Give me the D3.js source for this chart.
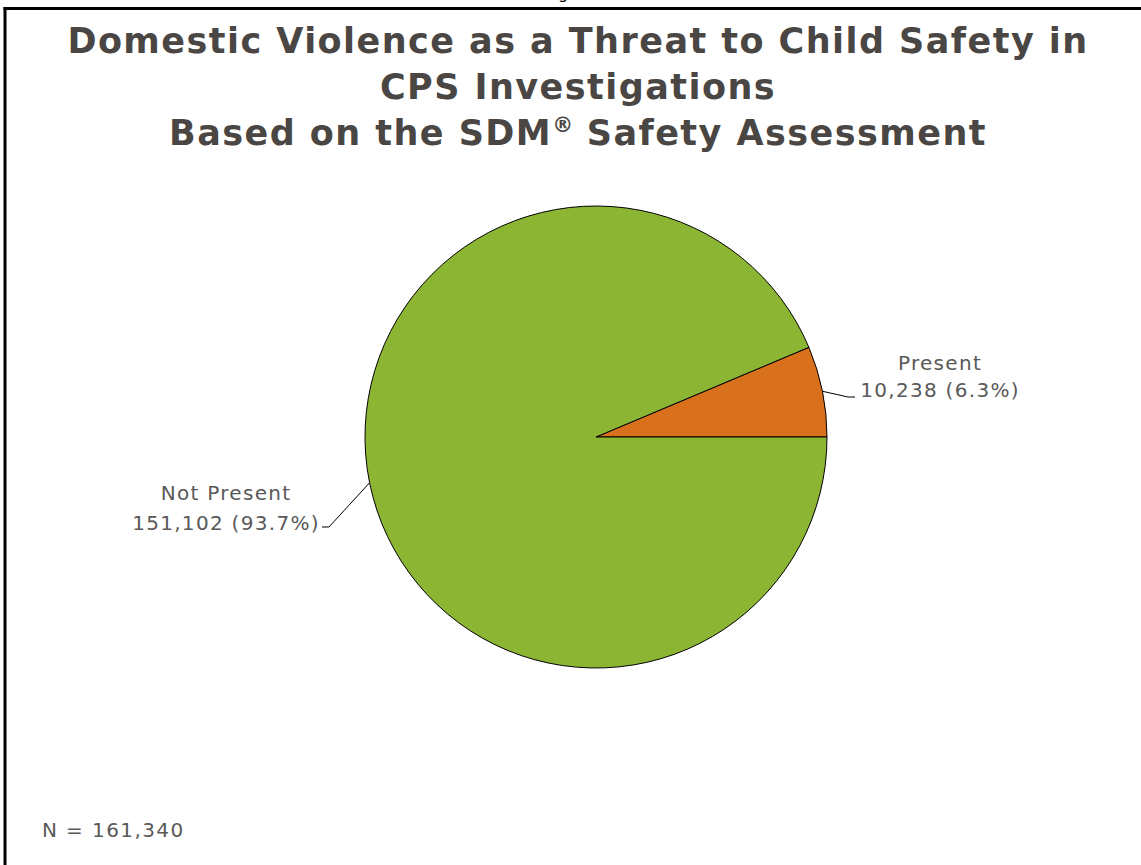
<!DOCTYPE html>
<html>
<head>
<meta charset="utf-8">
<script src="https://cdn.jsdelivr.net/npm/d3@7/dist/d3.min.js"></script>
<style>
  html, body { margin: 0; padding: 0; background: #fff; }
  svg { display: block; }
</style>
</head>
<body>
<svg id="chart" width="1141" height="865"></svg>
<script>
// Safety assessment outcome for domestic violence threat
const categories = ["Present", "Not Present"];
const counts = [10238, 151102];
const colors = ["#D9711C", "#8DB534"];
const titleLines = [
  "Domestic Violence as a Threat to Child Safety in",
  "CPS Investigations",
  "Based on the SDM"
];
const titleTail = " Safety Assessment";
const totalLabel = "N = 161,340";

const svg = d3.select("#chart");
const W = 1141, H = 865;

// Frame (top and left rules)
svg.append("rect").attr("x", 0).attr("y", 0).attr("width", W).attr("height", H).attr("fill", "#fff");
svg.append("line").attr("x1", 3.5).attr("x2", W).attr("y1", 8.5).attr("y2", 8.5)
  .attr("stroke", "#000").attr("stroke-width", 3);
svg.append("line").attr("x1", 5).attr("x2", 5).attr("y1", 7).attr("y2", H)
  .attr("stroke", "#000").attr("stroke-width", 3);

// Caption above the frame, mostly clipped at the page edge
svg.append("text").attr("x", 570).attr("y", -1).attr("text-anchor", "middle")
  .attr("font-family", "DejaVu Sans, Verdana, sans-serif").attr("font-size", 16)
  .attr("fill", "#000").text("Figure");

// Title
const title = svg.append("g")
  .attr("font-family", "DejaVu Sans, Verdana, sans-serif")
  .attr("font-weight", "bold").attr("font-size", 35).attr("letter-spacing", 1.45)
  .attr("fill", "#4A4643").attr("text-anchor", "middle");
titleLines.forEach((t, i) => {
  const line = title.append("text").attr("x", 578).attr("y", 53 + i * 46);
  line.append("tspan").text(t);
  if (i === 2) {
    line.append("tspan").attr("font-size", 21).attr("dy", -13).attr("letter-spacing", 0).text("\u00AE");
    line.append("tspan").attr("dy", 13).text(titleTail);
  }
});

// Pie
const cx = 596, cy = 437, R = 231;
const total = d3.sum(counts);
const startA = Math.PI / 2 - 2 * Math.PI * counts[0] / total;
const pie = d3.pie().sort(null).startAngle(startA).endAngle(startA + 2 * Math.PI);
const arcs = pie(counts);
const arc = d3.arc().innerRadius(0).outerRadius(R);

const g = svg.append("g").attr("transform", `translate(${cx},${cy})`);
g.selectAll("path").data(arcs).join("path")
  .attr("d", arc)
  .attr("fill", (d, i) => colors[i])
  .attr("stroke", "#000").attr("stroke-width", 1);

// Labels with leader lines
const fmt = d3.format(",");
const pct = v => (100 * v / total).toFixed(1) + "%";
const labelFont = "DejaVu Sans, Verdana, sans-serif";
const labelSpec = [
  { tx: 940, y1: 370, y2: 397, elbow: [848, 397], end: [855, 397] },
  { tx: 226, y1: 500, y2: 530, elbow: [329, 527], end: [322, 527] }
];
arcs.forEach((d, i) => {
  const s = labelSpec[i];
  const mid = (d.startAngle + d.endAngle) / 2;
  const px = cx + R * Math.sin(mid), py = cy - R * Math.cos(mid);
  svg.append("polyline")
    .attr("points", [[px, py], s.elbow, s.end].map(p => p.join(",")).join(" "))
    .attr("fill", "none").attr("stroke", "#000").attr("stroke-width", 1);
  const t = svg.append("text").attr("font-family", labelFont).attr("font-size", 20)
    .attr("fill", "#595959").attr("text-anchor", "middle").attr("letter-spacing", 1.3);
  t.append("tspan").attr("x", s.tx).attr("y", s.y1).text(categories[i]);
  t.append("tspan").attr("x", s.tx).attr("y", s.y2).text(`${fmt(counts[i])} (${pct(counts[i])})`);
});

// Sample size note
svg.append("text").attr("x", 42).attr("y", 837)
  .attr("font-family", labelFont).attr("font-size", 20).attr("letter-spacing", 1.4)
  .attr("fill", "#595959").text(totalLabel);
</script>
</body>
</html>
